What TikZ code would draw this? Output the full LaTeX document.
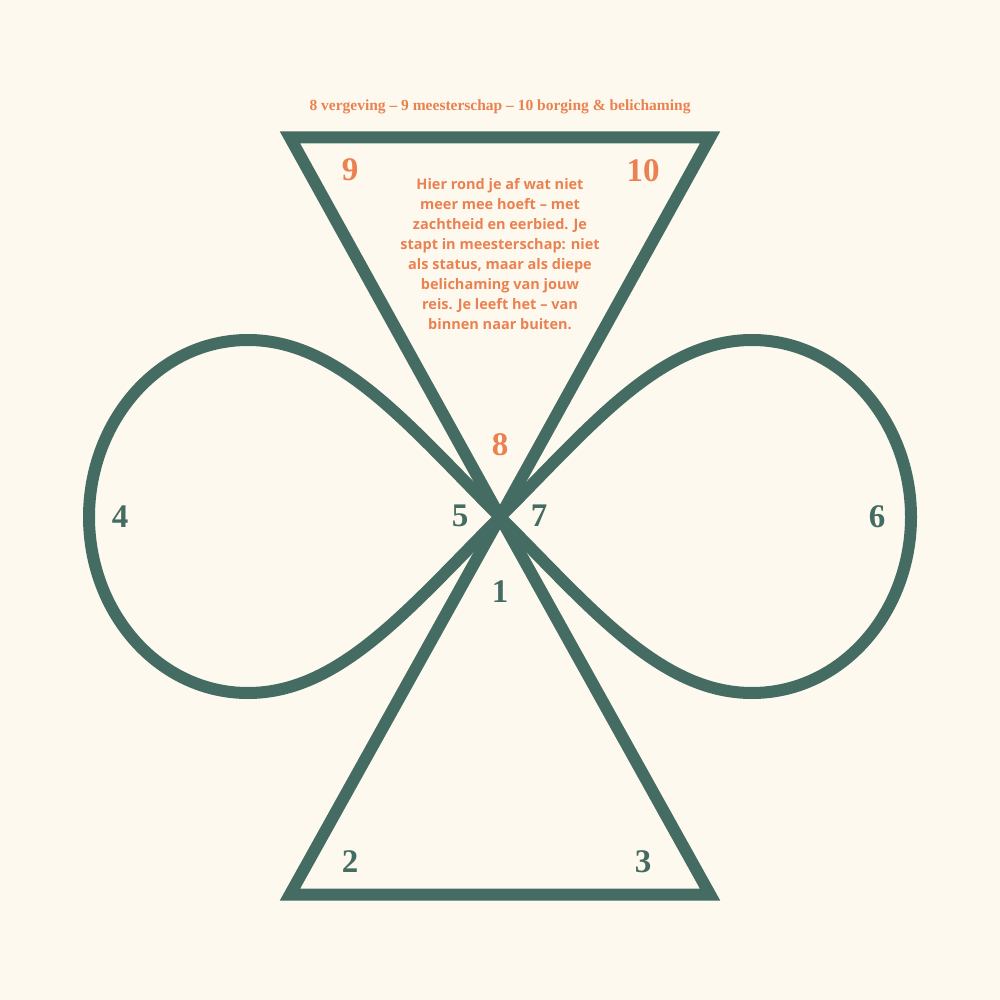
\documentclass[tikz,border=0pt]{standalone}
\usepackage{fontspec}
\setmainfont{Liberation Serif}
\newfontfamily\parafont{Open Sans}
\definecolor{pine}{HTML}{456C62}
\definecolor{clay}{HTML}{EA8150}
\definecolor{paper}{HTML}{FEF9EF}
\tikzset{>=stealth,
  shape line/.style={draw=pine, line width=12pt, line join=miter},
  digit/.style={font=\fontsize{33}{33}\selectfont\bfseries, text=pine, inner sep=0pt},
  hot digit/.style={digit, text=clay}}

\begin{document}
\begin{tikzpicture}[x=1pt,y=-1pt]
    \fill [paper] (0,0) rectangle (1000,1000);

    % hourglass
    \draw [shape line] (290,137.5) -- (710,137.5) -- (500,517) -- cycle;
    \draw [shape line] (290,894.5) -- (710,894.5) -- (500,517) -- cycle;

    % infinity loops
    \draw [shape line] (500,517) .. controls (410,427) and (340,340) .. (248,340)
      .. controls (158,340) and (89,422) .. (89,517)
      .. controls (89,612) and (158,693) .. (248,693)
      .. controls (340,693) and (410,607) .. (500,517);
    \draw [shape line] (500,517) .. controls (590,427) and (660,340) .. (752,340)
      .. controls (842,340) and (911,422) .. (911,517)
      .. controls (911,612) and (842,693) .. (752,693)
      .. controls (660,693) and (590,607) .. (500,517);

    \node [text=clay, font=\fontsize{15.5}{15.5}\selectfont\bfseries] (title) at (500,107)
      {8 vergeving – 9 meesterschap – 10 borging \& belichaming};
    \node [text=clay, align=center, font=\parafont\fontsize{14.5}{20}\selectfont\bfseries] (story) at (500,254)
      {Hier rond je af wat niet\\ meer mee hoeft – met\\ zachtheid en eerbied. Je\\
       stapt in meesterschap: niet\\ als status, maar als diepe\\ belichaming van jouw\\
       reis. Je leeft het – van\\ binnen naar buiten.};

    \node [hot digit] (n9) at (350,170) {9};
    \node [hot digit] (n10) at (643,171) {10};
    \node [hot digit] (n8) at (500,445) {8};
    \node [digit] (n1) at (500,592) {1};
    \node [digit] (n2) at (350,862) {2};
    \node [digit] (n3) at (643,862) {3};
    \node [digit] (n4) at (120,517) {4};
    \node [digit] (n5) at (460,516) {5};
    \node [digit] (n6) at (877,517) {6};
    \node [digit] (n7) at (539,516) {7};
  \end{tikzpicture}
\end{document}
